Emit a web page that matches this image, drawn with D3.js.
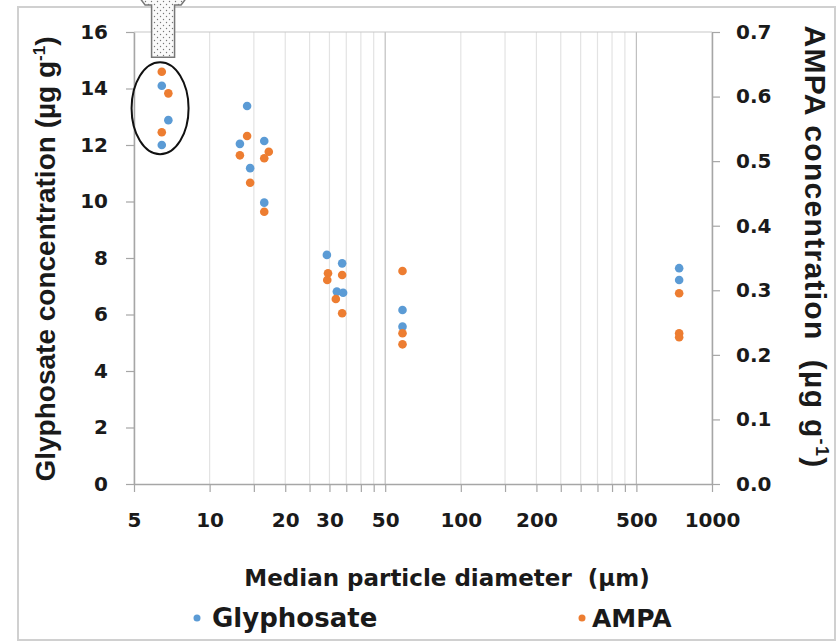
<!DOCTYPE html>
<html>
<head>
<meta charset="utf-8">
<script src="https://cdn.jsdelivr.net/npm/d3@7"></script>
<style>
  body { margin: 0; background: #fff; }
  svg text { font-family: "DejaVu Sans", sans-serif; font-weight: bold; fill: #1a1a1a; }
  svg text.vtitle { font-family: "Liberation Sans", Arial, sans-serif; }
</style>
</head>
<body>
<svg id="chart_svg" width="840" height="644"></svg>
<script>
// tick labels and gridline positions
var xTickLabels = [5, 10, 20, 30, 50, 100, 200, 500, 1000];
var xGrid = [5, 10, 15, 20, 25, 30, 35, 40, 45, 50, 100, 150, 200, 250, 300, 350, 400, 450, 500, 1000];
var yLeftTicks = [0, 2, 4, 6, 8, 10, 12, 14, 16];
var yRightTicks = [0, 0.1, 0.2, 0.3, 0.4, 0.5, 0.6, 0.7];

// Glyphosate (left axis, µg/g)
var glyX = [6.45, 6.85, 6.45, 14.1, 13.2, 16.5, 14.5, 16.5, 29.3, 33.7, 32.1, 34.0, 58.6, 58.6, 740, 740];
var glyY = [14.1, 12.88, 12.0, 13.38, 12.04, 12.14, 11.18, 9.96, 8.11, 7.81, 6.81, 6.77, 6.16, 5.57, 7.64, 7.22];

// AMPA (right axis, µg/g)
var ampaX = [6.45, 6.85, 6.45, 14.1, 13.2, 17.2, 16.5, 14.5, 16.5, 29.6, 33.7, 29.4, 31.8, 33.7, 58.6, 58.6, 58.6, 740, 740, 740];
var ampaY = [0.6385, 0.605, 0.5447, 0.539, 0.509, 0.5146, 0.5044, 0.4666, 0.4217, 0.3263, 0.3237, 0.316, 0.2865, 0.2644, 0.3299, 0.2334, 0.2163, 0.2953, 0.2334, 0.2272];

var BLUE = "#5B9BD5", ORANGE = "#ED7D31";
var AXIS = "#a6a6a6";

var svg = d3.select("#chart_svg");

// outer chart border
svg.append("rect").attr("x", 18).attr("y", 7).attr("width", 817).attr("height", 633)
  .attr("fill", "none").attr("stroke", "#d0d0d0").attr("stroke-width", 2);

var x = d3.scaleLog().domain([5, 1000]).range([134, 712]);
var yL = d3.scaleLinear().domain([0, 16]).range([484, 32]);
var yR = d3.scaleLinear().domain([0, 0.7]).range([484, 32]);

// vertical gridlines (50 and 500 are the major ones)
svg.append("g").selectAll("line").data(xGrid).enter().append("line")
  .attr("x1", function (d) { return x(d); }).attr("x2", function (d) { return x(d); })
  .attr("y1", yL(16)).attr("y2", yL(0))
  .attr("stroke", function (d) { return (d === 50 || d === 500) ? "#bfbfbf" : "#e3e3e3"; })
  .attr("stroke-width", 1.2);

svg.append("line").attr("x1", x(5)).attr("x2", x(1000)).attr("y1", yL(16)).attr("y2", yL(16))
  .attr("stroke", "#c8c8c8").attr("stroke-width", 1.2);

// axes
function styleAxis(g) {
  g.selectAll("path.domain").attr("stroke", AXIS).attr("stroke-width", 1.5);
  g.selectAll(".tick line").attr("stroke", AXIS).attr("stroke-width", 1.2);
  g.selectAll(".tick text").attr("font-size", 20).attr("fill", "#1a1a1a")
    .attr("font-family", "'DejaVu Sans', sans-serif").attr("font-weight", "bold");
}

var xAxis = svg.append("g").attr("transform", "translate(0," + yL(0) + ")")
  .call(d3.axisBottom(x).tickValues(xGrid).tickSize(8).tickSizeOuter(0)
    .tickFormat(function (d) { return xTickLabels.indexOf(d) >= 0 ? d : ""; }))
  .call(styleAxis);
xAxis.selectAll(".tick text").attr("y", 43).attr("dy", 0);

var yAxisL = svg.append("g").attr("transform", "translate(" + x(5) + ",0)")
  .call(d3.axisLeft(yL).tickValues(yLeftTicks).tickSize(8).tickSizeOuter(0))
  .call(styleAxis);
yAxisL.selectAll(".tick text").attr("x", -26);

var yAxisR = svg.append("g").attr("transform", "translate(" + x(1000) + ",0)")
  .call(d3.axisRight(yR).tickValues(yRightTicks).tickSize(8).tickSizeOuter(0)
    .tickFormat(d3.format(".1f")))
  .call(styleAxis);
yAxisR.selectAll(".tick text").attr("x", 24);

// points
svg.append("g").selectAll("circle").data(glyX).enter().append("circle")
  .attr("cx", function (d) { return x(d); })
  .attr("cy", function (d, i) { return yL(glyY[i]); })
  .attr("r", 4.3).attr("fill", BLUE);

svg.append("g").selectAll("circle").data(ampaX).enter().append("circle")
  .attr("cx", function (d) { return x(d); })
  .attr("cy", function (d, i) { return yR(ampaY[i]); })
  .attr("r", 4.3).attr("fill", ORANGE);

// annotation: ellipse round the finest fraction and a dotted arrow
var ecx = x(6.35), ecy = yL(13.3);
svg.append("ellipse").attr("cx", ecx).attr("cy", ecy).attr("rx", 28.5).attr("ry", 46)
  .attr("fill", "none").attr("stroke", "#111").attr("stroke-width", 2);

var defs = svg.append("defs");
var pat = defs.append("pattern").attr("id", "dots").attr("patternUnits", "userSpaceOnUse")
  .attr("width", 6).attr("height", 6);
pat.append("rect").attr("width", 6).attr("height", 6).attr("fill", "#fafafa");
pat.append("circle").attr("cx", 1.5).attr("cy", 1.5).attr("r", 0.7).attr("fill", "#777");
pat.append("circle").attr("cx", 4.5).attr("cy", 4.5).attr("r", 0.7).attr("fill", "#777");

var arrowX = ecx + 3, arrowBottom = ecy - 46 - 5;
var arrowPts = [[arrowX - 24, -3], [arrowX - 18, 5], [arrowX - 11.5, 5], [arrowX - 11.5, arrowBottom],
  [arrowX + 11.5, arrowBottom], [arrowX + 11.5, 5], [arrowX + 18, 5], [arrowX + 24, -3]];
svg.append("path").attr("d", d3.line()(arrowPts) + "Z")
  .attr("fill", "url(#dots)").attr("stroke", "#777").attr("stroke-width", 1.5);

// axis titles
svg.append("text").attr("class", "vtitle").attr("transform", "translate(55,259) rotate(-90)")
  .attr("text-anchor", "middle").attr("font-size", 28)
  .html('Glyphosate concentration (µg g<tspan dy="-10" font-size="17">-1</tspan><tspan dy="10">)</tspan>');

svg.append("text").attr("class", "vtitle").attr("transform", "translate(805,247) rotate(90)")
  .attr("text-anchor", "middle").attr("font-size", 30).attr("letter-spacing", 1.3)
  .html('AMPA concentration \u00a0(µg g<tspan dy="-11" font-size="18">-1</tspan><tspan dy="11">)</tspan>');

svg.append("text").attr("x", 447).attr("y", 586).attr("text-anchor", "middle")
  .attr("font-size", 23).text("Median particle diameter \u00a0(µm)");

// legend
svg.append("circle").attr("cx", 197).attr("cy", 618).attr("r", 3.5).attr("fill", BLUE);
svg.append("text").attr("x", 212).attr("y", 627).attr("font-size", 26).text("Glyphosate");
svg.append("circle").attr("cx", 582).attr("cy", 618).attr("r", 3.5).attr("fill", ORANGE);
svg.append("text").attr("x", 592).attr("y", 627).attr("font-size", 25).text("AMPA");
</script>
</body>
</html>
